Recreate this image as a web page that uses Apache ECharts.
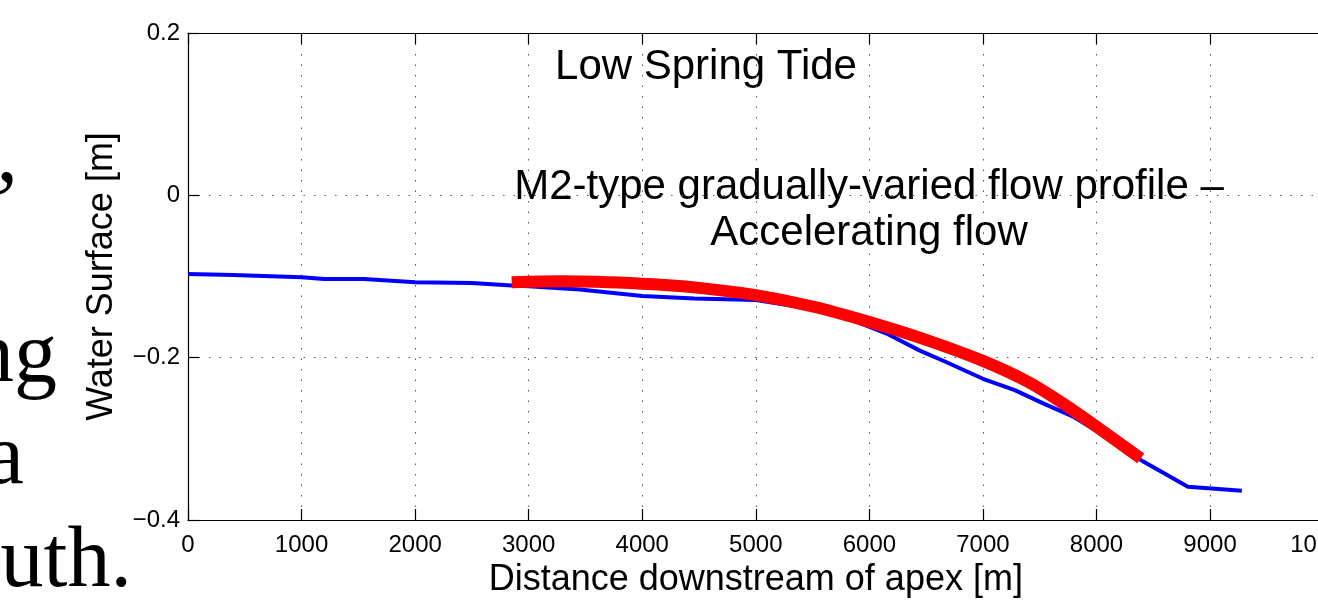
<!DOCTYPE html>
<html>
<head>
<meta charset="utf-8">
<script src="https://cdn.jsdelivr.net/npm/echarts@6/dist/echarts.min.js"></script>
<style>
  html, body { margin: 0; padding: 0; background: #fff; overflow: hidden; }
  #main { width: 1360px; height: 603px; }
</style>
</head>
<body>
<div id="main"></div>
<script>
// measured water surface along the channel (blue)
var blueDist = [0, 400, 1000, 1200, 1550, 2000, 2500, 2850, 3000, 3450, 4000, 4460, 5000, 5500,
  5855, 6147, 6440, 6670, 7000, 7280, 7540, 7800, 8000, 8412, 8805, 9280];
var blueLevel = [-0.097, -0.098, -0.101, -0.103, -0.103, -0.107, -0.108, -0.111, -0.112, -0.116,
  -0.124, -0.127, -0.129, -0.140, -0.154, -0.170, -0.191, -0.205, -0.226, -0.240, -0.257, -0.273,
  -0.290, -0.328, -0.359, -0.364];

// M2 profile fit (red)
var redDist = [2850, 3300, 4000, 4500, 5000, 5500, 6000, 6500, 7000, 7400, 7700, 8000, 8390];
var redLevel = [-0.107, -0.106, -0.109, -0.114, -0.123, -0.137, -0.156, -0.178, -0.204, -0.230,
  -0.256, -0.285, -0.324];

var xTicks = { min: 0, max: 10000, step: 1000 };
var yTicks = { min: -0.4, max: 0.2, step: 0.2 };

var annotations = ["Low Spring Tide", "M2-type gradually-varied flow profile \u2013\nAccelerating flow"];
var slideText = [",", "ng", "a", "outh."];

function pairs(xs, ys) {
  return xs.map(function (x, i) { return [x, ys[i]]; });
}

var chart = echarts.init(document.getElementById("main"));

var sans = "Liberation Sans";
var serif = "86px 'Liberation Serif'";
var gridLine = { show: true, lineStyle: { type: [1.5, 9], color: "#555", width: 1 } };

var option = {
  animation: false,
  backgroundColor: "#fff",
  grid: { left: 188, top: 33, right: 24, bottom: 83 },
  xAxis: [
    {
      type: "value",
      min: xTicks.min,
      max: xTicks.max,
      interval: xTicks.step,
      name: "Distance downstream of apex [m]",
      nameLocation: "middle",
      nameGap: 42,
      nameTextStyle: { color: "#000", fontSize: 36, fontFamily: sans },
      axisLine: { show: true, onZero: false, lineStyle: { color: "#000", width: 1.2 } },
      axisTick: { show: true, inside: true, length: 11, lineStyle: { color: "#000", width: 1.2 } },
      axisLabel: {
        color: "#000", fontSize: 24, fontFamily: sans, margin: 13,
        formatter: function (v) { return String(v); }
      },
      splitLine: gridLine
    },
    {
      type: "value",
      position: "top",
      min: xTicks.min,
      max: xTicks.max,
      interval: xTicks.step,
      axisLine: { show: true, onZero: false, lineStyle: { color: "#000", width: 1.2 } },
      axisTick: { show: true, inside: true, length: 11, lineStyle: { color: "#000", width: 1.2 } },
      axisLabel: { show: false },
      splitLine: { show: false }
    }
  ],
  yAxis: {
    type: "value",
    min: yTicks.min,
    max: yTicks.max,
    interval: yTicks.step,
    name: "Water Surface [m]",
    nameLocation: "middle",
    nameGap: 68,
    nameRotate: 90,
    nameTextStyle: { color: "#000", fontSize: 36, fontFamily: sans },
    axisLine: { show: true, onZero: false, lineStyle: { color: "#000", width: 1.2 } },
    axisTick: { show: true, inside: true, length: 11, lineStyle: { color: "#000", width: 1.2 } },
    axisLabel: {
      color: "#000", fontSize: 24, fontFamily: sans, margin: 8,
      formatter: function (v) {
        var r = Math.round(v * 10) / 10;
        if (r === 0) return "0";
        return r.toFixed(1).replace("-", "\u2212");
      }
    },
    splitLine: gridLine
  },
  graphic: [
    { type: "text", x: 706, y: 67, style: { text: annotations[0], font: "42px " + sans, fill: "#000", textAlign: "center", textVerticalAlign: "middle" } },
    { type: "text", x: 869, y: 210, style: { text: annotations[1], font: "42px " + sans, fill: "#000", textAlign: "center", textVerticalAlign: "middle", lineHeight: 46 } },
    { type: "text", x: 18, y: 158, style: { text: slideText[0], font: serif, fill: "#000", textAlign: "right", textVerticalAlign: "middle" } },
    { type: "text", x: 57, y: 358, style: { text: slideText[1], font: serif, fill: "#000", textAlign: "right", textVerticalAlign: "middle" } },
    { type: "text", x: 24, y: 460, style: { text: slideText[2], font: serif, fill: "#000", textAlign: "right", textVerticalAlign: "middle" } },
    { type: "text", x: 132, y: 563, style: { text: slideText[3], font: serif, fill: "#000", textAlign: "right", textVerticalAlign: "middle" } }
  ],
  series: [
    {
      name: "Water surface",
      type: "line",
      data: pairs(blueDist, blueLevel),
      showSymbol: false,
      lineStyle: { color: "#0000ff", width: 4 },
      z: 2
    },
    {
      name: "M2 profile",
      type: "line",
      data: pairs(redDist, redLevel),
      showSymbol: false,
      smooth: 0.3,
      lineStyle: { color: "#ff0000", width: 12, cap: "butt" },
      z: 3
    }
  ]
};

chart.setOption(option);
</script>
</body>
</html>
